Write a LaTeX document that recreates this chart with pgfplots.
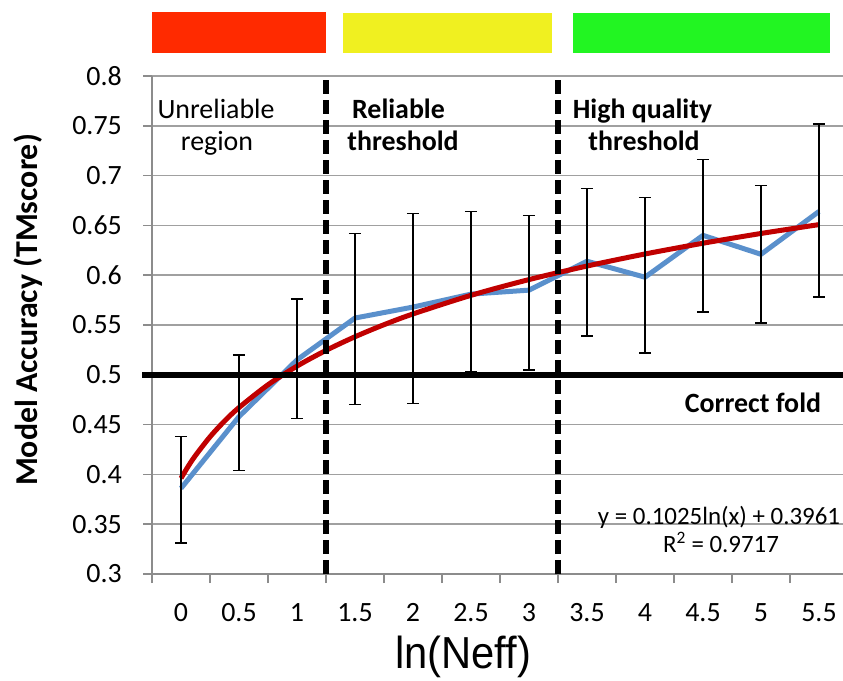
\documentclass[border=0pt]{standalone}
\usepackage{pgfplots}
\pgfplotsset{compat=1.18}
\usepackage{pgfplotstable}
\usepackage{fontspec}
\setmainfont{Carlito}
\newfontfamily\arialn[FakeStretch=0.93]{Liberation Sans}
\definecolor{barred}{HTML}{FF2A00}
\definecolor{baryellow}{HTML}{F0F020}
\definecolor{bargreen}{HTML}{22F522}
\definecolor{lineblue}{HTML}{5A90CC}
\definecolor{trendred}{HTML}{C00000}
\definecolor{axisgray}{HTML}{8C8C8C}
\definecolor{gridgray}{HTML}{A0A0A0}

\pgfplotstableread{
x y ep em
0 0.386 0.052 0.055
1 0.458 0.062 0.054
2 0.515 0.061 0.059
3 0.557 0.085 0.087
4 0.568 0.094 0.097
5 0.581 0.083 0.078
6 0.585 0.075 0.080
7 0.614 0.073 0.075
8 0.598 0.080 0.076
9 0.640 0.076 0.077
10 0.621 0.069 0.069
11 0.664 0.088 0.086
}\acc

\pgfplotstableread{
x y
0 0.3961
0.125 0.4082
0.25 0.4190
0.5 0.4377
0.75 0.4535
1 0.4671
1.5 0.4900
2 0.5087
2.5 0.5245
3 0.5382
3.5 0.5503
4 0.5611
5 0.5798
6 0.5956
7 0.6092
8 0.6213
9 0.6321
10 0.6419
11 0.6508
}\trend

\begin{document}
\begin{tikzpicture}
\useasboundingbox (-152bp,-107bp) rectangle (691bp,574bp);
\fill[barred] (0bp,521bp) rectangle (174bp,562bp);
\fill[baryellow] (191bp,521bp) rectangle (400bp,561bp);
\fill[bargreen] (421bp,521bp) rectangle (678bp,561bp);
\begin{axis}[
  at={(0,0)}, anchor=south west,
  scale only axis, width=691bp, height=498bp,
  xmin=-0.5, xmax=11.414, ymin=0.3, ymax=0.8,
  clip=false,
  axis x line*=bottom, axis y line*=left,
  axis line style={draw=axisgray, line width=1.5bp},
  xtick={-0.5,0.5,1.5,2.5,3.5,4.5,5.5,6.5,7.5,8.5,9.5,10.5},
  xticklabels={0,0.5,1,1.5,2,2.5,3,3.5,4,4.5,5,5.5},
  ytick={0.3,0.35,0.4,0.45,0.5,0.55,0.6,0.65,0.7,0.75,0.8},
  yticklabels={0.3,0.35,0.4,0.45,0.5,0.55,0.6,0.65,0.7,0.75,0.8},
  tick align=outside, major tick length=9bp,
  tick style={draw=axisgray, line width=1.5bp},
  ymajorgrids, grid style={draw=gridgray, line width=1.5bp},
  xticklabel style={font=\fontsize{28}{28}\selectfont, anchor=base, inner sep=0pt, xshift=29bp, yshift=-38bp},
  yticklabel style={font=\fontsize{28}{28}\selectfont, anchor=east, inner sep=0pt, xshift=-21bp},
]
\addplot[lineblue, line width=5bp, line join=round] table[x=x,y=y]{\acc};
\addplot[trendred, line width=5bp, smooth, line join=round] table[x=x,y=y]{\trend};
\addplot[black, line width=6bp] coordinates {(-0.672,0.5) (11.414,0.5)};
\addplot[black, line width=5.5bp, dash pattern=on 14bp off 6bp] coordinates {(2.5,0.3) (2.5,0.8)};
\addplot[black, line width=5.5bp, dash pattern=on 14bp off 6bp] coordinates {(6.5,0.3) (6.5,0.8)};
\addplot[draw=none, mark=none,
  error bars/.cd, y dir=both, y explicit,
  error bar style={draw=black, line width=1.4bp},
  error mark options={draw=black, rotate=90, mark size=6bp, line width=1.4bp}]
  table[x=x, y=y, y error plus=ep, y error minus=em]{\acc};
\end{axis}
\node[rotate=90] at (-124bp,264bp) {\bfseries\fontsize{32}{32}\selectfont Model Accuracy (TMscore)};
\node[anchor=base] at (311bp,-94bp) {\arialn\fontsize{45}{45}\selectfont ln(Neff)};
\node[anchor=base] at (64bp,455bp) {\fontsize{28}{28}\selectfont Unreliable};
\node[anchor=base] at (65bp,423.3bp) {\fontsize{28}{28}\selectfont region};
\node[anchor=base] at (246.5bp,455bp) {\bfseries\fontsize{28}{28}\selectfont Reliable};
\node[anchor=base] at (251bp,423.3bp) {\bfseries\fontsize{28}{28}\selectfont threshold};
\node[anchor=base] at (490.5bp,455bp) {\bfseries\fontsize{28}{28}\selectfont High quality};
\node[anchor=base] at (492bp,423.3bp) {\bfseries\fontsize{28}{28}\selectfont threshold};
\node[anchor=base] at (601bp,161bp) {\bfseries\fontsize{28}{28}\selectfont Correct fold};
\node[anchor=base] at (567bp,49bp) {\fontsize{25}{25}\selectfont y = 0.1025ln(x) + 0.3961};
\node[anchor=base] at (569bp,22bp) {\fontsize{25}{25}\selectfont R\textsuperscript{2} = 0.9717};
\end{tikzpicture}
\end{document}
